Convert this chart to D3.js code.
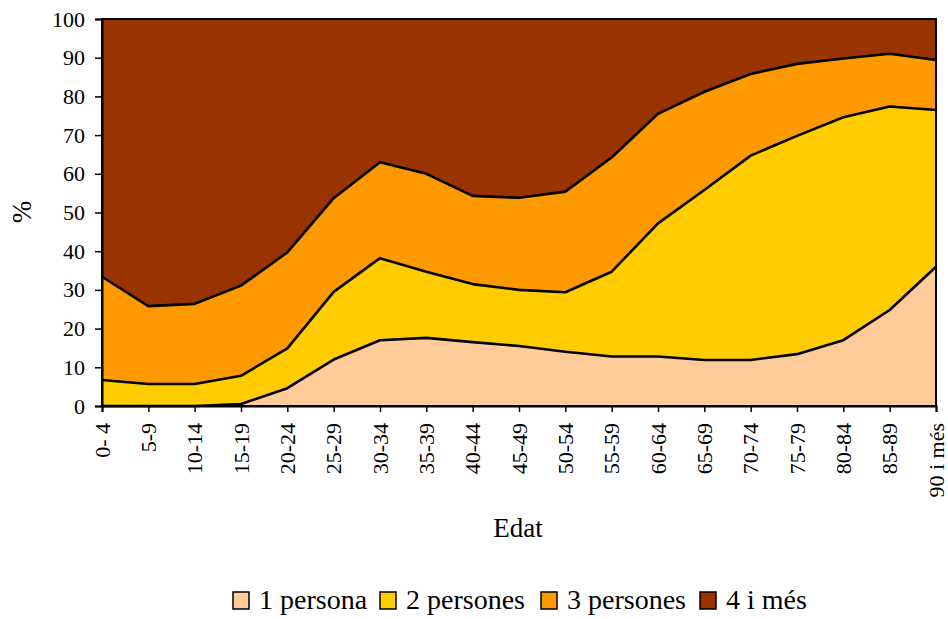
<!DOCTYPE html>
<html><head><meta charset="utf-8">
<script src="https://cdn.jsdelivr.net/npm/d3@7"></script>
<style>body{margin:0;background:#fff}svg{display:block}</style>
</head><body>
<svg id="c" width="948" height="619"></svg>
<script>
const categories = ["0- 4","5-9","10-14","15-19","20-24","25-29","30-34","35-39","40-44","45-49","50-54","55-59","60-64","65-69","70-74","75-79","80-84","85-89","90 i més"];
const seriesNames = ["1 persona","2 persones","3 persones","4 i més"];
const p1 = [0,0,0,0.5,4.6,12.0,17.0,17.6,16.5,15.5,14.0,12.8,12.8,11.9,11.9,13.4,17.0,24.8,36.0];
const p2 = [6.7,5.7,5.7,7.3,10.3,17.5,21.2,17.1,15.0,14.5,15.4,21.9,34.4,43.9,52.8,56.4,57.6,52.6,40.5];
const p3 = [26.7,20.1,20.7,23.3,24.8,24.2,24.8,25.3,22.8,23.8,26.0,29.5,28.3,25.4,21.1,18.6,15.2,13.6,12.9];
const p4 = [66.6,74.2,73.6,69.0,60.3,46.3,37.0,40.0,45.7,46.2,44.6,35.8,24.5,18.8,14.2,11.6,10.2,9.0,10.6];
const yTicks = [0,10,20,30,40,50,60,70,80,90,100];
const colors = ["#FFCC99","#FFCC00","#FF9900","#993300"];
const FONT = '"Liberation Serif"';

const svg = d3.select("#c");
const L=102,R=936,T=19,B=406;
const x = d3.scalePoint().domain(categories).range([L,R]);
const y = d3.scaleLinear().domain([0,100]).range([B,T]);
const table = categories.map((c,i)=>({cat:c,"1 persona":p1[i],"2 persones":p2[i],"3 persones":p3[i],"4 i més":p4[i]}));
const stack = d3.stack().keys(seriesNames)(table);
const area = d3.area().x(d=>x(d.data.cat)).y0(d=>y(d[0])).y1(d=>y(Math.min(100,d[1])));
const line = d3.line().x(d=>x(d.data.cat)).y(d=>y(Math.min(100,d[1])));
svg.append("g").selectAll("path").data(stack).join("path")
  .attr("d",area).attr("fill",(d,i)=>colors[i]);
svg.append("g").selectAll("path").data(stack.slice(0,3)).join("path")
  .attr("d",line).attr("fill","none").attr("stroke","#000").attr("stroke-width",2.6).attr("stroke-linejoin","round");
svg.append("rect").attr("x",L).attr("y",T).attr("width",R-L).attr("height",B-T).attr("fill","none").attr("stroke","#000").attr("stroke-width",2);

const ya = svg.append("g").attr("transform",`translate(${L},0)`).call(d3.axisLeft(y).tickValues(yTicks).tickSize(7).tickPadding(10));
ya.attr("font-family",null).attr("font-size",null);
ya.select(".domain").attr("stroke-width",2);
ya.selectAll("line").attr("stroke-width",1.5);
ya.selectAll("text").style("font-size","22px").style("font-family",FONT).attr("fill","#000");
const xa = svg.append("g").attr("transform",`translate(0,${B})`).call(d3.axisBottom(x).tickSize(6).tickPadding(8));
xa.attr("font-family",null).attr("font-size",null);
xa.select(".domain").attr("stroke-width",2);
xa.selectAll("line").attr("stroke-width",1.5);
xa.selectAll("text").style("font-size","22px").style("font-family",FONT).attr("fill","#000")
  .attr("transform","rotate(-90)").attr("text-anchor","end").attr("dy","0.33em").attr("x",-17).attr("y",0);

svg.append("text").attr("x",518).attr("y",537).attr("text-anchor","middle").style("font-size","27px").style("font-family",FONT).text("Edat");
svg.append("text").attr("transform","translate(31,212) rotate(-90)").attr("text-anchor","middle").style("font-size","27px").style("font-family",FONT).text("%");

const legX=[233,380,541,700];
const lg = svg.append("g");
seriesNames.forEach((n,i)=>{
  lg.append("rect").attr("x",legX[i]).attr("y",592).attr("width",16).attr("height",17).attr("fill",colors[i]).attr("stroke","#000").attr("stroke-width",1.5);
  lg.append("text").attr("x",legX[i]+26).attr("y",609).style("font-size","28px").style("font-family",FONT).text(n);
});
</script>
</body></html>
